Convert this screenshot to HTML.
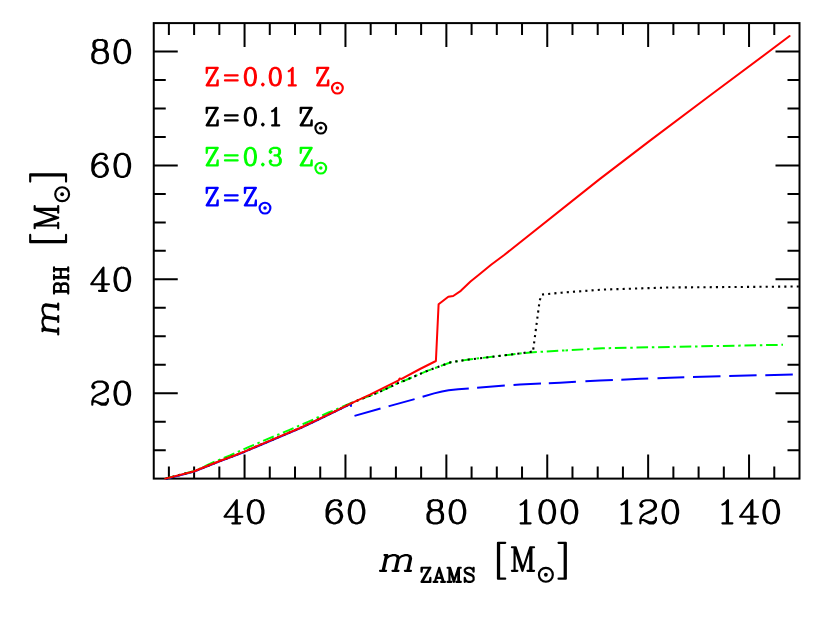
<!DOCTYPE html>
<html><head><meta charset="utf-8"><title>BH mass vs ZAMS mass</title>
<style>html,body{margin:0;padding:0;background:#fff;font-family:"Liberation Sans",sans-serif}svg{display:block}</style>
</head><body>
<svg width="830" height="631" viewBox="0 0 830 631">
<rect width="830" height="631" fill="#fff"/>
<rect x="153.75" y="23.1" width="645.75" height="455.5" fill="none" stroke="#000" stroke-width="2"/>
<path d="M168.88 478.6V466.6M168.88 23.1V35.1M194.11 478.6V466.6M194.11 23.1V35.1M219.33 478.6V466.6M219.33 23.1V35.1M244.56 478.6V454.6M244.56 23.1V47.1M269.78 478.6V466.6M269.78 23.1V35.1M295.01 478.6V466.6M295.01 23.1V35.1M320.23 478.6V466.6M320.23 23.1V35.1M345.46 478.6V454.6M345.46 23.1V47.1M370.68 478.6V466.6M370.68 23.1V35.1M395.91 478.6V466.6M395.91 23.1V35.1M421.13 478.6V466.6M421.13 23.1V35.1M446.36 478.6V454.6M446.36 23.1V47.1M471.58 478.6V466.6M471.58 23.1V35.1M496.8 478.6V466.6M496.8 23.1V35.1M522.03 478.6V466.6M522.03 23.1V35.1M547.25 478.6V454.6M547.25 23.1V47.1M572.48 478.6V466.6M572.48 23.1V35.1M597.7 478.6V466.6M597.7 23.1V35.1M622.93 478.6V466.6M622.93 23.1V35.1M648.15 478.6V454.6M648.15 23.1V47.1M673.38 478.6V466.6M673.38 23.1V35.1M698.6 478.6V466.6M698.6 23.1V35.1M723.83 478.6V466.6M723.83 23.1V35.1M749.05 478.6V454.6M749.05 23.1V47.1M774.28 478.6V466.6M774.28 23.1V35.1M153.75 450.13H165.75M799.5 450.13H787.5M153.75 421.66H165.75M799.5 421.66H787.5M153.75 393.19H177.75M799.5 393.19H775.5M153.75 364.73H165.75M799.5 364.73H787.5M153.75 336.26H165.75M799.5 336.26H787.5M153.75 307.79H165.75M799.5 307.79H787.5M153.75 279.32H177.75M799.5 279.32H775.5M153.75 250.85H165.75M799.5 250.85H787.5M153.75 222.38H165.75M799.5 222.38H787.5M153.75 193.91H165.75M799.5 193.91H787.5M153.75 165.44H177.75M799.5 165.44H775.5M153.75 136.98H165.75M799.5 136.98H787.5M153.75 108.51H165.75M799.5 108.51H787.5M153.75 80.04H165.75M799.5 80.04H787.5M153.75 51.57H177.75M799.5 51.57H775.5" stroke="#000" stroke-width="2" fill="none"/>
<path d="M165.3 478.95 193.5 471.85 219.1 461.55 235 455.65 244.3 451.95 260 445.25 280 436.75 300 428.35 315 421.25 335 411.65 350.9 403.9 351 406.8" fill="none" stroke="#0000ff" stroke-width="2" stroke-linejoin="round"/>
<path d="M354.5 415.9 380.5 408.56M388.6 406.27 389.2 406.1 414.6 399.13M422.6 396.78 434.1 393.4 442 391.5 448.6 390.3 458.2 389.3 468.8 388.51M477.1 387.84 504.8 385.62M513.5 384.92 520 384.4 541 383.51M548.8 383.18 560 382.7 575.9 381.87M585.4 381.37 600 380.6 612.9 380.02M621.3 379.64 640 378.8 648.2 378.5M657.5 378.16 670 377.7 684.3 377.27M693 377.01 720 376.2 720.5 376.19M729.2 375.99 756.6 375.35M765.3 375.14 792.8 374.5" fill="none" stroke="#0000ff" stroke-width="2" stroke-linejoin="round"/>
<path d="M165.3 478.6 193.5 471.3 205 466.27 214 461.95 230 455.46 249 446.94 269 438.43 289 430.12 308 421.91 328 412.76 340 407.83 358 400.22 378 392.6 388.1 387.9 398.7 382.8 404.1 380.8 415.9 375.7 427.2 370.9 439 366.6 451 362.2 468.9 359.5 520 353.5 533.4 352.2 564.9 350.42" fill="none" stroke="#00ff00" stroke-width="2" stroke-dasharray="11.52 3.72 2.48 3.72" stroke-dashoffset="-19.36" stroke-linejoin="round"/>
<path d="M565.2 350.4 602.4 348.3 670 346.9 783 344.8" fill="none" stroke="#00ff00" stroke-width="2" stroke-dasharray="2.5 3.75 11.6 3.75" stroke-dashoffset="-0.31" stroke-linejoin="round"/>
<path d="M165.3 478.65 193.5 471.55 219.1 461.25 235 455.35 244.3 451.65 260 444.95 280 436.45 300 428.05 315 420.95 335 411.35 350 403.95 358 400.27 378 392.6 388.1 387.9 398.7 382.8 404.1 380.8 415.9 375.7 427.2 370.9 439 366.6 451 362.2 468.9 359.5 520 353.5 533 351.4" fill="none" stroke="#000" stroke-width="2.1" stroke-dasharray="2.1 4.15" stroke-dashoffset="-0.84" stroke-linejoin="round"/>
<path d="M533.2 349.8 539.6 300.9 541.7 294.6 561.2 292.7 602.4 289.6 668.4 287.5 799 286.5" fill="none" stroke="#000" stroke-width="2.1" stroke-dasharray="2.1 4.12" stroke-dashoffset="-0.25" stroke-linejoin="round"/>
<path d="M165.3 478.6 193.5 471.5 219.1 461.2 235 455.3 244.3 451.6 260 444.9 280 436.4 300 428 315 420.9 335 411.3 350 403.9 370 394.7 385 387.2 398.6 380.4 399.6 378.6 401.6 378.9 420 369 435.9 361 438.6 304.3 448.3 296.7 453.2 296 460.8 290.8 470.5 281.6 479.2 274.5 491.1 264.8 504.2 255 598.7 179.9 650 140.6 710 95.5 789.6 36" fill="none" stroke="#ff0000" stroke-width="2" stroke-linejoin="round" stroke-linecap="round"/>
<path d="M235.68 502.4 235.68 523.3M236.79 500.2 236.79 523.3M236.79 500.2 224.58 516.7 242.34 516.7M232.35 523.3 240.12 523.3M254.55 500.2 251.22 501.3 249 504.6 247.89 510.1 247.89 513.4 249 518.9 251.22 522.2 254.55 523.3 256.77 523.3 260.1 522.2 262.32 518.9 263.43 513.4 263.43 510.1 262.32 504.6 260.1 501.3 256.77 500.2 254.55 500.2M254.55 500.2 252.33 501.3 251.22 502.4 250.11 504.6 249 510.1 249 513.4 250.11 518.9 251.22 521.1 252.33 522.2 254.55 523.3M256.77 523.3 258.99 522.2 260.1 521.1 261.21 518.9 262.32 513.4 262.32 510.1 261.21 504.6 260.1 502.4 258.99 501.3 256.77 500.2" fill="none" stroke="#000" stroke-width="2.15" stroke-linecap="round" stroke-linejoin="round"/>
<path d="M339.91 503.5 338.8 504.6 339.91 505.7 341.02 504.6 341.02 503.5 339.91 501.3 337.69 500.2 334.36 500.2 331.03 501.3 328.81 503.5 327.7 505.7 326.59 510.1 326.59 516.7 327.7 520 329.92 522.2 333.25 523.3 335.47 523.3 338.8 522.2 341.02 520 342.13 516.7 342.13 515.6 341.02 512.3 338.8 510.1 335.47 509 334.36 509 331.03 510.1 328.81 512.3 327.7 515.6M334.36 500.2 332.14 501.3 329.92 503.5 328.81 505.7 327.7 510.1 327.7 516.7 328.81 520 331.03 522.2 333.25 523.3M335.47 523.3 337.69 522.2 339.91 520 341.02 516.7 341.02 515.6 339.91 512.3 337.69 510.1 335.47 509M355.45 500.2 352.12 501.3 349.9 504.6 348.79 510.1 348.79 513.4 349.9 518.9 352.12 522.2 355.45 523.3 357.67 523.3 361 522.2 363.22 518.9 364.33 513.4 364.33 510.1 363.22 504.6 361 501.3 357.67 500.2 355.45 500.2M355.45 500.2 353.23 501.3 352.12 502.4 351.01 504.6 349.9 510.1 349.9 513.4 351.01 518.9 352.12 521.1 353.23 522.2 355.45 523.3M357.67 523.3 359.89 522.2 361 521.1 362.11 518.9 363.22 513.4 363.22 510.1 362.11 504.6 361 502.4 359.89 501.3 357.67 500.2" fill="none" stroke="#000" stroke-width="2.15" stroke-linecap="round" stroke-linejoin="round"/>
<path d="M433.04 500.2 429.71 501.3 428.6 503.5 428.6 506.8 429.71 509 433.04 510.1 437.48 510.1 440.81 509 441.92 506.8 441.92 503.5 440.81 501.3 437.48 500.2 433.04 500.2M433.04 500.2 430.82 501.3 429.71 503.5 429.71 506.8 430.82 509 433.04 510.1M437.48 510.1 439.7 509 440.81 506.8 440.81 503.5 439.7 501.3 437.48 500.2M433.04 510.1 429.71 511.2 428.6 512.3 427.49 514.5 427.49 518.9 428.6 521.1 429.71 522.2 433.04 523.3 437.48 523.3 440.81 522.2 441.92 521.1 443.03 518.9 443.03 514.5 441.92 512.3 440.81 511.2 437.48 510.1M433.04 510.1 430.82 511.2 429.71 512.3 428.6 514.5 428.6 518.9 429.71 521.1 430.82 522.2 433.04 523.3M437.48 523.3 439.7 522.2 440.81 521.1 441.92 518.9 441.92 514.5 440.81 512.3 439.7 511.2 437.48 510.1M456.35 500.2 453.02 501.3 450.8 504.6 449.69 510.1 449.69 513.4 450.8 518.9 453.02 522.2 456.35 523.3 458.57 523.3 461.9 522.2 464.12 518.9 465.23 513.4 465.23 510.1 464.12 504.6 461.9 501.3 458.57 500.2 456.35 500.2M456.35 500.2 454.13 501.3 453.02 502.4 451.91 504.6 450.8 510.1 450.8 513.4 451.91 518.9 453.02 521.1 454.13 522.2 456.35 523.3M458.57 523.3 460.79 522.2 461.9 521.1 463.01 518.9 464.12 513.4 464.12 510.1 463.01 504.6 461.9 502.4 460.79 501.3 458.57 500.2" fill="none" stroke="#000" stroke-width="2.15" stroke-linecap="round" stroke-linejoin="round"/>
<path d="M520.61 504.6 522.83 503.5 526.16 500.2 526.16 523.3M525.05 501.3 525.05 523.3M520.61 523.3 530.6 523.3M546.14 500.2 542.81 501.3 540.59 504.6 539.48 510.1 539.48 513.4 540.59 518.9 542.81 522.2 546.14 523.3 548.36 523.3 551.69 522.2 553.91 518.9 555.02 513.4 555.02 510.1 553.91 504.6 551.69 501.3 548.36 500.2 546.14 500.2M546.14 500.2 543.92 501.3 542.81 502.4 541.7 504.6 540.59 510.1 540.59 513.4 541.7 518.9 542.81 521.1 543.92 522.2 546.14 523.3M548.36 523.3 550.58 522.2 551.69 521.1 552.8 518.9 553.91 513.4 553.91 510.1 552.8 504.6 551.69 502.4 550.58 501.3 548.36 500.2M568.34 500.2 565.01 501.3 562.79 504.6 561.68 510.1 561.68 513.4 562.79 518.9 565.01 522.2 568.34 523.3 570.56 523.3 573.89 522.2 576.11 518.9 577.22 513.4 577.22 510.1 576.11 504.6 573.89 501.3 570.56 500.2 568.34 500.2M568.34 500.2 566.12 501.3 565.01 502.4 563.9 504.6 562.79 510.1 562.79 513.4 563.9 518.9 565.01 521.1 566.12 522.2 568.34 523.3M570.56 523.3 572.78 522.2 573.89 521.1 575 518.9 576.11 513.4 576.11 510.1 575 504.6 573.89 502.4 572.78 501.3 570.56 500.2" fill="none" stroke="#000" stroke-width="2.15" stroke-linecap="round" stroke-linejoin="round"/>
<path d="M621.51 504.6 623.73 503.5 627.06 500.2 627.06 523.3M625.95 501.3 625.95 523.3M621.51 523.3 631.5 523.3M641.49 504.6 642.6 505.7 641.49 506.8 640.38 505.7 640.38 504.6 641.49 502.4 642.6 501.3 645.93 500.2 650.37 500.2 653.7 501.3 654.81 502.4 655.92 504.6 655.92 506.8 654.81 509 651.48 511.2 645.93 513.4 643.71 514.5 641.49 516.7 640.38 520 640.38 523.3M650.37 500.2 652.59 501.3 653.7 502.4 654.81 504.6 654.81 506.8 653.7 509 650.37 511.2 645.93 513.4M640.38 521.1 641.49 520 643.71 520 649.26 522.2 652.59 522.2 654.81 521.1 655.92 520M643.71 520 649.26 523.3 653.7 523.3 654.81 522.2 655.92 520 655.92 517.8M669.24 500.2 665.91 501.3 663.69 504.6 662.58 510.1 662.58 513.4 663.69 518.9 665.91 522.2 669.24 523.3 671.46 523.3 674.79 522.2 677.01 518.9 678.12 513.4 678.12 510.1 677.01 504.6 674.79 501.3 671.46 500.2 669.24 500.2M669.24 500.2 667.02 501.3 665.91 502.4 664.8 504.6 663.69 510.1 663.69 513.4 664.8 518.9 665.91 521.1 667.02 522.2 669.24 523.3M671.46 523.3 673.68 522.2 674.79 521.1 675.9 518.9 677.01 513.4 677.01 510.1 675.9 504.6 674.79 502.4 673.68 501.3 671.46 500.2" fill="none" stroke="#000" stroke-width="2.15" stroke-linecap="round" stroke-linejoin="round"/>
<path d="M722.41 504.6 724.63 503.5 727.96 500.2 727.96 523.3M726.85 501.3 726.85 523.3M722.41 523.3 732.4 523.3M751.27 502.4 751.27 523.3M752.38 500.2 752.38 523.3M752.38 500.2 740.17 516.7 757.93 516.7M747.94 523.3 755.71 523.3M770.14 500.2 766.81 501.3 764.59 504.6 763.48 510.1 763.48 513.4 764.59 518.9 766.81 522.2 770.14 523.3 772.36 523.3 775.69 522.2 777.91 518.9 779.02 513.4 779.02 510.1 777.91 504.6 775.69 501.3 772.36 500.2 770.14 500.2M770.14 500.2 767.92 501.3 766.81 502.4 765.7 504.6 764.59 510.1 764.59 513.4 765.7 518.9 766.81 521.1 767.92 522.2 770.14 523.3M772.36 523.3 774.58 522.2 775.69 521.1 776.8 518.9 777.91 513.4 777.91 510.1 776.8 504.6 775.69 502.4 774.58 501.3 772.36 500.2" fill="none" stroke="#000" stroke-width="2.15" stroke-linecap="round" stroke-linejoin="round"/>
<path d="M93.44 385.99 94.55 387.09 93.44 388.19 92.33 387.09 92.33 385.99 93.44 383.79 94.55 382.69 97.88 381.59 102.32 381.59 105.65 382.69 106.76 383.79 107.87 385.99 107.87 388.19 106.76 390.39 103.43 392.59 97.88 394.79 95.66 395.89 93.44 398.09 92.33 401.39 92.33 404.69M102.32 381.59 104.54 382.69 105.65 383.79 106.76 385.99 106.76 388.19 105.65 390.39 102.32 392.59 97.88 394.79M92.33 402.49 93.44 401.39 95.66 401.39 101.21 403.59 104.54 403.59 106.76 402.49 107.87 401.39M95.66 401.39 101.21 404.69 105.65 404.69 106.76 403.59 107.87 401.39 107.87 399.19M121.19 381.59 117.86 382.69 115.64 385.99 114.53 391.49 114.53 394.79 115.64 400.29 117.86 403.59 121.19 404.69 123.41 404.69 126.74 403.59 128.96 400.29 130.07 394.79 130.07 391.49 128.96 385.99 126.74 382.69 123.41 381.59 121.19 381.59M121.19 381.59 118.97 382.69 117.86 383.79 116.75 385.99 115.64 391.49 115.64 394.79 116.75 400.29 117.86 402.49 118.97 403.59 121.19 404.69M123.41 404.69 125.63 403.59 126.74 402.49 127.85 400.29 128.96 394.79 128.96 391.49 127.85 385.99 126.74 383.79 125.63 382.69 123.41 381.59" fill="none" stroke="#000" stroke-width="2.15" stroke-linecap="round" stroke-linejoin="round"/>
<path d="M102.32 269.92 102.32 290.82M103.43 267.72 103.43 290.82M103.43 267.72 91.22 284.22 108.98 284.22M98.99 290.82 106.76 290.82M121.19 267.72 117.86 268.82 115.64 272.12 114.53 277.62 114.53 280.92 115.64 286.42 117.86 289.72 121.19 290.82 123.41 290.82 126.74 289.72 128.96 286.42 130.07 280.92 130.07 277.62 128.96 272.12 126.74 268.82 123.41 267.72 121.19 267.72M121.19 267.72 118.97 268.82 117.86 269.92 116.75 272.12 115.64 277.62 115.64 280.92 116.75 286.42 117.86 288.62 118.97 289.72 121.19 290.82M123.41 290.82 125.63 289.72 126.74 288.62 127.85 286.42 128.96 280.92 128.96 277.62 127.85 272.12 126.74 269.92 125.63 268.82 123.41 267.72" fill="none" stroke="#000" stroke-width="2.15" stroke-linecap="round" stroke-linejoin="round"/>
<path d="M105.65 157.14 104.54 158.24 105.65 159.34 106.76 158.24 106.76 157.14 105.65 154.94 103.43 153.84 100.1 153.84 96.77 154.94 94.55 157.14 93.44 159.34 92.33 163.74 92.33 170.34 93.44 173.64 95.66 175.84 98.99 176.94 101.21 176.94 104.54 175.84 106.76 173.64 107.87 170.34 107.87 169.24 106.76 165.94 104.54 163.74 101.21 162.64 100.1 162.64 96.77 163.74 94.55 165.94 93.44 169.24M100.1 153.84 97.88 154.94 95.66 157.14 94.55 159.34 93.44 163.74 93.44 170.34 94.55 173.64 96.77 175.84 98.99 176.94M101.21 176.94 103.43 175.84 105.65 173.64 106.76 170.34 106.76 169.24 105.65 165.94 103.43 163.74 101.21 162.64M121.19 153.84 117.86 154.94 115.64 158.24 114.53 163.74 114.53 167.04 115.64 172.54 117.86 175.84 121.19 176.94 123.41 176.94 126.74 175.84 128.96 172.54 130.07 167.04 130.07 163.74 128.96 158.24 126.74 154.94 123.41 153.84 121.19 153.84M121.19 153.84 118.97 154.94 117.86 156.04 116.75 158.24 115.64 163.74 115.64 167.04 116.75 172.54 117.86 174.74 118.97 175.84 121.19 176.94M123.41 176.94 125.63 175.84 126.74 174.74 127.85 172.54 128.96 167.04 128.96 163.74 127.85 158.24 126.74 156.04 125.63 154.94 123.41 153.84" fill="none" stroke="#000" stroke-width="2.15" stroke-linecap="round" stroke-linejoin="round"/>
<path d="M97.88 39.97 94.55 41.07 93.44 43.27 93.44 46.57 94.55 48.77 97.88 49.87 102.32 49.87 105.65 48.77 106.76 46.57 106.76 43.27 105.65 41.07 102.32 39.97 97.88 39.97M97.88 39.97 95.66 41.07 94.55 43.27 94.55 46.57 95.66 48.77 97.88 49.87M102.32 49.87 104.54 48.77 105.65 46.57 105.65 43.27 104.54 41.07 102.32 39.97M97.88 49.87 94.55 50.97 93.44 52.07 92.33 54.27 92.33 58.67 93.44 60.87 94.55 61.97 97.88 63.07 102.32 63.07 105.65 61.97 106.76 60.87 107.87 58.67 107.87 54.27 106.76 52.07 105.65 50.97 102.32 49.87M97.88 49.87 95.66 50.97 94.55 52.07 93.44 54.27 93.44 58.67 94.55 60.87 95.66 61.97 97.88 63.07M102.32 63.07 104.54 61.97 105.65 60.87 106.76 58.67 106.76 54.27 105.65 52.07 104.54 50.97 102.32 49.87M121.19 39.97 117.86 41.07 115.64 44.37 114.53 49.87 114.53 53.17 115.64 58.67 117.86 61.97 121.19 63.07 123.41 63.07 126.74 61.97 128.96 58.67 130.07 53.17 130.07 49.87 128.96 44.37 126.74 41.07 123.41 39.97 121.19 39.97M121.19 39.97 118.97 41.07 117.86 42.17 116.75 44.37 115.64 49.87 115.64 53.17 116.75 58.67 117.86 60.87 118.97 61.97 121.19 63.07M123.41 63.07 125.63 61.97 126.74 60.87 127.85 58.67 128.96 53.17 128.96 49.87 127.85 44.37 126.74 42.17 125.63 41.07 123.41 39.97" fill="none" stroke="#000" stroke-width="2.15" stroke-linecap="round" stroke-linejoin="round"/>
<path d="M386.06 555.12 382.61 570.8M387.18 555.12 383.73 570.8M386.44 558.48 389.17 556.24 392.78 555.12 395.02 555.12 398.13 556.24 398.76 558.48 396.05 570.8M395.02 555.12 397.01 556.24 397.64 558.48 394.93 570.8M398.76 558.48 401.49 556.24 405.1 555.12 407.34 555.12 410.45 556.24 411.08 558.48 408.37 570.8M407.34 555.12 409.33 556.24 409.96 558.48 407.25 570.8M384.49 555.12 387.18 555.12M379.97 570.8 386.13 570.8M392.46 570.8 398.51 570.8M404.84 570.8 411 570.8M429.75 567.73 421.53 581.9M430.38 567.73 422.16 581.9M422.16 567.73 421.53 571.77 421.53 567.73 430.38 567.73M421.53 581.9 430.38 581.9 430.38 577.85 429.75 581.9M439.25 567.73 434.83 581.9M439.25 567.73 443.68 581.9M439.25 569.75 443.05 581.9M436.1 577.85 441.78 577.85M433.57 581.9 437.36 581.9M441.15 581.9 444.94 581.9M449.46 567.73 449.46 581.9M450.09 567.73 453.89 579.88M449.46 567.73 453.89 581.9M458.31 567.73 453.89 581.9M458.31 567.73 458.31 581.9M458.94 567.73 458.94 581.9M447.57 567.73 450.09 567.73M458.31 567.73 460.83 567.73M447.57 581.9 451.36 581.9M456.41 581.9 460.83 581.9M472.97 569.75 473.6 567.73 473.6 571.77 472.97 569.75 471.71 568.4 469.81 567.73 467.92 567.73 466.02 568.4 464.76 569.75 464.76 571.1 465.39 572.45 466.02 573.12 467.28 573.8 471.08 575.15 472.34 575.82 473.6 577.17M464.76 571.1 466.02 572.45 467.28 573.12 471.08 574.48 472.34 575.15 472.97 575.82 473.6 577.17 473.6 579.88 472.34 581.23 470.44 581.9 468.55 581.9 466.65 581.23 465.39 579.88 464.76 577.85 464.76 581.9 465.39 579.88M497.96 542.8 497.96 578.64M499.08 542.8 499.08 578.64M497.96 542.8 505.24 542.8M497.96 578.64 505.24 578.64M514.58 547.28 514.58 570.8M515.7 547.28 522.42 567.44M514.58 547.28 522.42 570.8M530.26 547.28 522.42 570.8M530.26 547.28 530.26 570.8M531.38 547.28 531.38 570.8M511.89 547.28 515.7 547.28M530.26 547.28 534.07 547.28M511.89 570.8 517.38 570.8M527.46 570.8 534.07 570.8M564.69 542.8 564.69 578.64M565.81 542.8 565.81 578.64M558.52 542.8 565.81 542.8M558.52 578.64 565.81 578.64" fill="none" stroke="#000" stroke-width="2.15" stroke-linecap="round" stroke-linejoin="round"/>
<circle cx="545.88" cy="574.75" r="6.95" fill="none" stroke="#000" stroke-width="2.15"/>
<circle cx="545.88" cy="574.75" r="1.9" fill="#000"/>
<path d="M42.52 329.62 58.2 331.89M42.52 328.5 58.2 330.77M45.88 328.99 43.64 326.42 42.52 322.9 42.52 320.66 43.64 317.46 45.88 316.67 58.2 318.45M42.52 320.66 43.64 318.58 45.88 317.79 58.2 319.57M45.88 316.67 43.64 314.1 42.52 310.58 42.52 308.34 43.64 305.14 45.88 304.35 58.2 306.13M42.52 308.34 43.64 306.26 45.88 305.47 58.2 307.25M42.52 331.19 42.52 328.5M58.2 334.53 58.2 328.37M58.2 322.04 58.2 315.99M58.2 309.66 58.2 303.5M54.03 291.73 68.2 291.73M54.03 291.12 68.2 291.12M54.03 293.55 54.03 286.26 54.7 284.43 55.38 283.82 56.73 283.22 58.08 283.22 59.43 283.82 60.1 284.43 60.78 286.26M54.03 286.26 54.7 285.04 55.38 284.43 56.73 283.82 58.08 283.82 59.43 284.43 60.1 285.04 60.78 286.26M60.78 291.12 60.78 286.26 61.45 284.43 62.12 283.82 63.48 283.22 65.5 283.22 66.85 283.82 67.53 284.43 68.2 286.26 68.2 293.55M60.78 286.26 61.45 285.04 62.12 284.43 63.48 283.82 65.5 283.82 66.85 284.43 67.53 285.04 68.2 286.26M54.03 277.62 68.2 277.62M54.03 277.01 68.2 277.01M54.03 269.71 68.2 269.71M54.03 269.1 68.2 269.1M54.03 279.44 54.03 275.18M54.03 271.54 54.03 267.28M60.78 277.01 60.78 269.71M68.2 279.44 68.2 275.18M68.2 271.54 68.2 267.28M30.2 242.16 66.04 242.16M30.2 241.04 66.04 241.04M30.2 242.16 30.2 234.88M66.04 242.16 66.04 234.88M34.68 225.53 58.2 225.53M34.68 224.41 54.84 217.69M34.68 225.53 58.2 217.69M34.68 209.85 58.2 217.69M34.68 209.85 58.2 209.85M34.68 208.73 58.2 208.73M34.68 228.22 34.68 224.41M34.68 209.85 34.68 206.04M58.2 228.22 58.2 222.73M58.2 212.65 58.2 206.04M30.2 175.43 66.04 175.43M30.2 174.31 66.04 174.31M30.2 181.59 30.2 174.31M66.04 181.59 66.04 174.31" fill="none" stroke="#000" stroke-width="2.15" stroke-linecap="round" stroke-linejoin="round"/>
<circle cx="62.15" cy="194.23" r="6.95" fill="none" stroke="#000" stroke-width="2.15"/>
<circle cx="62.15" cy="194.23" r="1.9" fill="#000"/>
<path d="M216.93 67.87 206.68 85.4M217.72 67.87 207.47 85.4M207.47 67.87 206.68 72.88 206.68 67.87 217.72 67.87M206.68 85.4 217.72 85.4 217.72 80.39 216.93 85.4M224.94 75.38 237.64 75.38M224.94 80.39 237.64 80.39M249.59 67.87 247.23 68.7 245.65 71.21 244.86 75.38 244.86 77.89 245.65 82.06 247.23 84.57 249.59 85.4 251.17 85.4 253.53 84.57 255.11 82.06 255.9 77.89 255.9 75.38 255.11 71.21 253.53 68.7 251.17 67.87 249.59 67.87M249.59 67.87 248.01 68.7 247.23 69.54 246.44 71.21 245.65 75.38 245.65 77.89 246.44 82.06 247.23 83.73 248.01 84.57 249.59 85.4M251.17 85.4 252.75 84.57 253.53 83.73 254.32 82.06 255.11 77.89 255.11 75.38 254.32 71.21 253.53 69.54 252.75 68.7 251.17 67.87M262.83 83.73 262.04 84.57 262.83 85.4 263.62 84.57 262.83 83.73M274.49 67.87 272.13 68.7 270.55 71.21 269.76 75.38 269.76 77.89 270.55 82.06 272.13 84.57 274.49 85.4 276.07 85.4 278.43 84.57 280.01 82.06 280.8 77.89 280.8 75.38 280.01 71.21 278.43 68.7 276.07 67.87 274.49 67.87M274.49 67.87 272.91 68.7 272.13 69.54 271.34 71.21 270.55 75.38 270.55 77.89 271.34 82.06 272.13 83.73 272.91 84.57 274.49 85.4M276.07 85.4 277.65 84.57 278.43 83.73 279.22 82.06 280.01 77.89 280.01 75.38 279.22 71.21 278.43 69.54 277.65 68.7 276.07 67.87M288.73 71.21 290.3 70.37 292.67 67.87 292.67 85.4M291.88 68.7 291.88 85.4M288.73 85.4 295.82 85.4M327.51 67.87 317.26 85.4M328.3 67.87 318.05 85.4M318.05 67.87 317.26 72.88 317.26 67.87 328.3 67.87M317.26 85.4 328.3 85.4 328.3 80.39 327.51 85.4" fill="none" stroke="#ff0000" stroke-width="2.15" stroke-linecap="round" stroke-linejoin="round"/>
<circle cx="337.39" cy="88.1" r="5.4" fill="none" stroke="#ff0000" stroke-width="2.15"/>
<circle cx="337.39" cy="88.1" r="1.75" fill="#ff0000"/>
<path d="M216.93 107.87 206.68 125.4M217.72 107.87 207.47 125.4M207.47 107.87 206.68 112.88 206.68 107.87 217.72 107.87M206.68 125.4 217.72 125.4 217.72 120.39 216.93 125.4M224.94 115.38 237.64 115.38M224.94 120.39 237.64 120.39M249.59 107.87 247.23 108.7 245.65 111.21 244.86 115.38 244.86 117.89 245.65 122.06 247.23 124.57 249.59 125.4 251.17 125.4 253.53 124.57 255.11 122.06 255.9 117.89 255.9 115.38 255.11 111.21 253.53 108.7 251.17 107.87 249.59 107.87M249.59 107.87 248.01 108.7 247.23 109.54 246.44 111.21 245.65 115.38 245.65 117.89 246.44 122.06 247.23 123.73 248.01 124.57 249.59 125.4M251.17 125.4 252.75 124.57 253.53 123.73 254.32 122.06 255.11 117.89 255.11 115.38 254.32 111.21 253.53 109.54 252.75 108.7 251.17 107.87M262.83 123.73 262.04 124.57 262.83 125.4 263.62 124.57 262.83 123.73M272.13 111.21 273.7 110.37 276.07 107.87 276.07 125.4M275.28 108.7 275.28 125.4M272.13 125.4 279.22 125.4M310.91 107.87 300.66 125.4M311.7 107.87 301.45 125.4M301.45 107.87 300.66 112.88 300.66 107.87 311.7 107.87M300.66 125.4 311.7 125.4 311.7 120.39 310.91 125.4" fill="none" stroke="#000" stroke-width="2.15" stroke-linecap="round" stroke-linejoin="round"/>
<circle cx="320.79" cy="128.1" r="5.4" fill="none" stroke="#000" stroke-width="2.15"/>
<circle cx="320.79" cy="128.1" r="1.75" fill="#000"/>
<path d="M216.93 147.87 206.68 165.4M217.72 147.87 207.47 165.4M207.47 147.87 206.68 152.88 206.68 147.87 217.72 147.87M206.68 165.4 217.72 165.4 217.72 160.39 216.93 165.4M224.94 155.38 237.64 155.38M224.94 160.39 237.64 160.39M249.59 147.87 247.23 148.7 245.65 151.21 244.86 155.38 244.86 157.89 245.65 162.06 247.23 164.56 249.59 165.4 251.17 165.4 253.53 164.56 255.11 162.06 255.9 157.89 255.9 155.38 255.11 151.21 253.53 148.7 251.17 147.87 249.59 147.87M249.59 147.87 248.01 148.7 247.23 149.53 246.44 151.21 245.65 155.38 245.65 157.89 246.44 162.06 247.23 163.73 248.01 164.56 249.59 165.4M251.17 165.4 252.75 164.56 253.53 163.73 254.32 162.06 255.11 157.89 255.11 155.38 254.32 151.21 253.53 149.53 252.75 148.7 251.17 147.87M262.83 163.73 262.04 164.56 262.83 165.4 263.62 164.56 262.83 163.73M270.55 151.21 271.34 152.04 270.55 152.88 269.76 152.04 269.76 151.21 270.55 149.53 271.34 148.7 273.7 147.87 276.86 147.87 279.22 148.7 280.01 150.37 280.01 152.88 279.22 154.55 276.86 155.38 274.49 155.38M276.86 147.87 278.43 148.7 279.22 150.37 279.22 152.88 278.43 154.55 276.86 155.38M276.86 155.38 278.43 156.22 280.01 157.89 280.8 159.56 280.8 162.06 280.01 163.73 279.22 164.56 276.86 165.4 273.7 165.4 271.34 164.56 270.55 163.73 269.76 162.06 269.76 161.22 270.55 160.39 271.34 161.22 270.55 162.06M279.22 157.05 280.01 159.56 280.01 162.06 279.22 163.73 278.43 164.56 276.86 165.4M310.91 147.87 300.66 165.4M311.7 147.87 301.45 165.4M301.45 147.87 300.66 152.88 300.66 147.87 311.7 147.87M300.66 165.4 311.7 165.4 311.7 160.39 310.91 165.4" fill="none" stroke="#00ff00" stroke-width="2.15" stroke-linecap="round" stroke-linejoin="round"/>
<circle cx="320.79" cy="168.1" r="5.4" fill="none" stroke="#00ff00" stroke-width="2.15"/>
<circle cx="320.79" cy="168.1" r="1.75" fill="#00ff00"/>
<path d="M216.93 187.87 206.68 205.4M217.72 187.87 207.47 205.4M207.47 187.87 206.68 192.88 206.68 187.87 217.72 187.87M206.68 205.4 217.72 205.4 217.72 200.39 216.93 205.4M224.94 195.38 237.64 195.38M224.94 200.39 237.64 200.39M255.11 187.87 244.86 205.4M255.9 187.87 245.65 205.4M245.65 187.87 244.86 192.88 244.86 187.87 255.9 187.87M244.86 205.4 255.9 205.4 255.9 200.39 255.11 205.4" fill="none" stroke="#0000ff" stroke-width="2.15" stroke-linecap="round" stroke-linejoin="round"/>
<circle cx="264.99" cy="208.1" r="5.4" fill="none" stroke="#0000ff" stroke-width="2.15"/>
<circle cx="264.99" cy="208.1" r="1.75" fill="#0000ff"/>
</svg>
</body></html>
